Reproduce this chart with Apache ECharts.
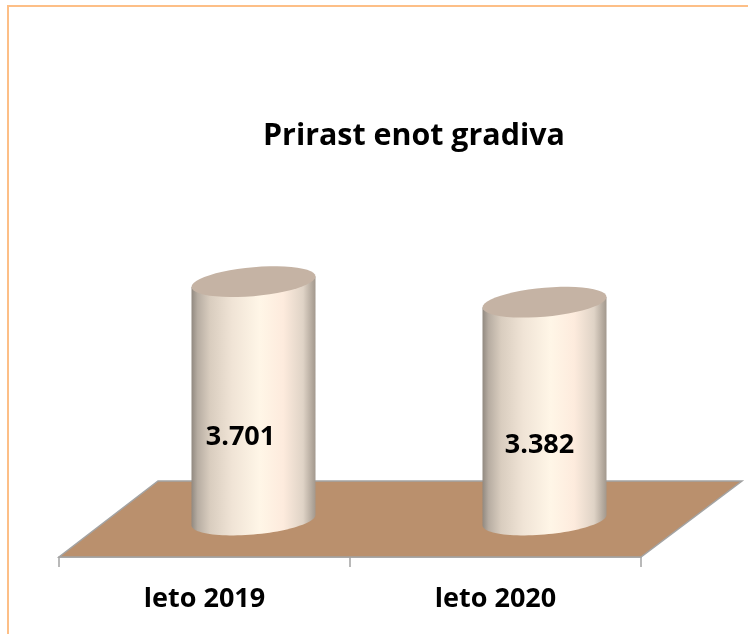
<!DOCTYPE html>
<html>
<head>
<meta charset="utf-8">
<title>Prirast enot gradiva</title>
<style>
  html, body { margin: 0; padding: 0; background: #fff; }
  #chart { width: 748px; height: 634px; }
</style>
<script src="https://cdn.jsdelivr.net/npm/echarts@6/dist/echarts.min.js"></script>
</head>
<body>
<div id="chart"></div>
<script>
var chartTitle = 'Prirast enot gradiva';
var categories = ['leto 2019', 'leto 2020'];
var values = [3701, 3382];
var valueLabels = ['3.701', '3.382'];

// floor depth in pixels, the columns stand half way back on it
var depthX = 100, depthY = 76;

function ellipsePoints(cx, cy, a, b, shear, from, to) {
  var pts = [];
  for (var i = 0; i <= 48; i++) {
    var t = from + (to - from) * i / 48;
    pts.push([cx + a * Math.cos(t), cy + b * Math.sin(t) - shear * a * Math.cos(t)]);
  }
  return pts;
}

function renderFloor(params) {
  var r = params.coordSys;
  var bottom = r.y + r.height, left = r.x, right = r.x + r.width;
  return {
    type: 'polygon',
    shape: { points: [[left, bottom], [right, bottom], [right + depthX + 1, bottom - depthY], [left + depthX - 1, bottom - depthY]] },
    style: { fill: '#ba906d', stroke: '#a3a3a3', lineWidth: 1.5 }
  };
}

function renderCylinder(params, api) {
  var i = params.dataIndex;
  var base = api.coord([i, 0]);
  var top = api.coord([i, api.value(1)]);
  var cx = base[0] + depthX / 2 - 1;
  var by = base[1] - depthY / 2 + 1;
  var ty = top[1] - depthY / 2 + 1;
  var a = 62, b = 14.5, shear = 0.085;
  var side = [[cx - a, ty + shear * a]]
    .concat(ellipsePoints(cx, by, a, b, shear, Math.PI, 0))
    .concat([[cx + a, ty - shear * a]]);
  return {
    type: 'group',
    children: [{
      type: 'polygon',
      shape: { points: side },
      style: {
        fill: new echarts.graphic.LinearGradient(0, 0, 1, 0, [
          { offset: 0, color: '#918980' },
          { offset: 0.05, color: '#b7ada2' },
          { offset: 0.15, color: '#d9cdbf' },
          { offset: 0.33, color: '#f0e4d6' },
          { offset: 0.55, color: '#fff6e7' },
          { offset: 0.74, color: '#fdebdd' },
          { offset: 0.9, color: '#dfd3c6' },
          { offset: 1, color: '#a2988d' }
        ])
      }
    }, {
      type: 'polygon',
      shape: { points: ellipsePoints(cx, ty, a, b, shear, 0, Math.PI * 2) },
      style: { fill: '#c5b3a4' }
    }, {
      type: 'text',
      style: {
        text: valueLabels[i],
        x: cx - 13 + i * 8,
        y: by - (by - ty) * 0.345,
        align: 'center',
        verticalAlign: 'middle',
        fill: '#000',
        font: 'bold 27px "Open Sans"'
      }
    }]
  };
}

var chart = echarts.init(document.getElementById('chart'));
chart.setOption({
  animation: false,
  backgroundColor: '#fff',
  title: {
    text: chartTitle,
    left: 258,
    top: 131,
    textVerticalAlign: 'middle',
    textStyle: { fontFamily: 'Open Sans', fontWeight: 'bold', fontSize: 30.4, color: '#000' }
  },
  graphic: [
    { type: 'rect', shape: { x: 7, y: 5, width: 741, height: 2 }, style: { fill: '#fdbf87' } },
    { type: 'rect', shape: { x: 7, y: 5, width: 2, height: 629 }, style: { fill: '#fdbf87' } }
  ],
  grid: { left: 59, right: 107, top: 235, bottom: 77 },
  xAxis: {
    type: 'category',
    data: categories,
    axisLine: { lineStyle: { color: '#a3a3a3', width: 1.5 } },
    axisTick: { show: true, length: 10, lineStyle: { color: '#a3a3a3', width: 1.5 } },
    axisLabel: { color: '#000', fontFamily: 'Open Sans', fontWeight: 'bold', fontSize: 27, margin: 29 }
  },
  yAxis: { type: 'value', min: 0, max: 5000, show: false, splitLine: { show: false } },
  series: [
    { type: 'custom', z: 1, silent: true, renderItem: renderFloor, data: [0], encode: { x: 0 } },
    {
      type: 'custom',
      z: 3,
      renderItem: renderCylinder,
      data: values.map(function (v, i) { return [i, v]; }),
      encode: { x: 0, y: 1 }
    }
  ]
});
</script>
</body>
</html>
